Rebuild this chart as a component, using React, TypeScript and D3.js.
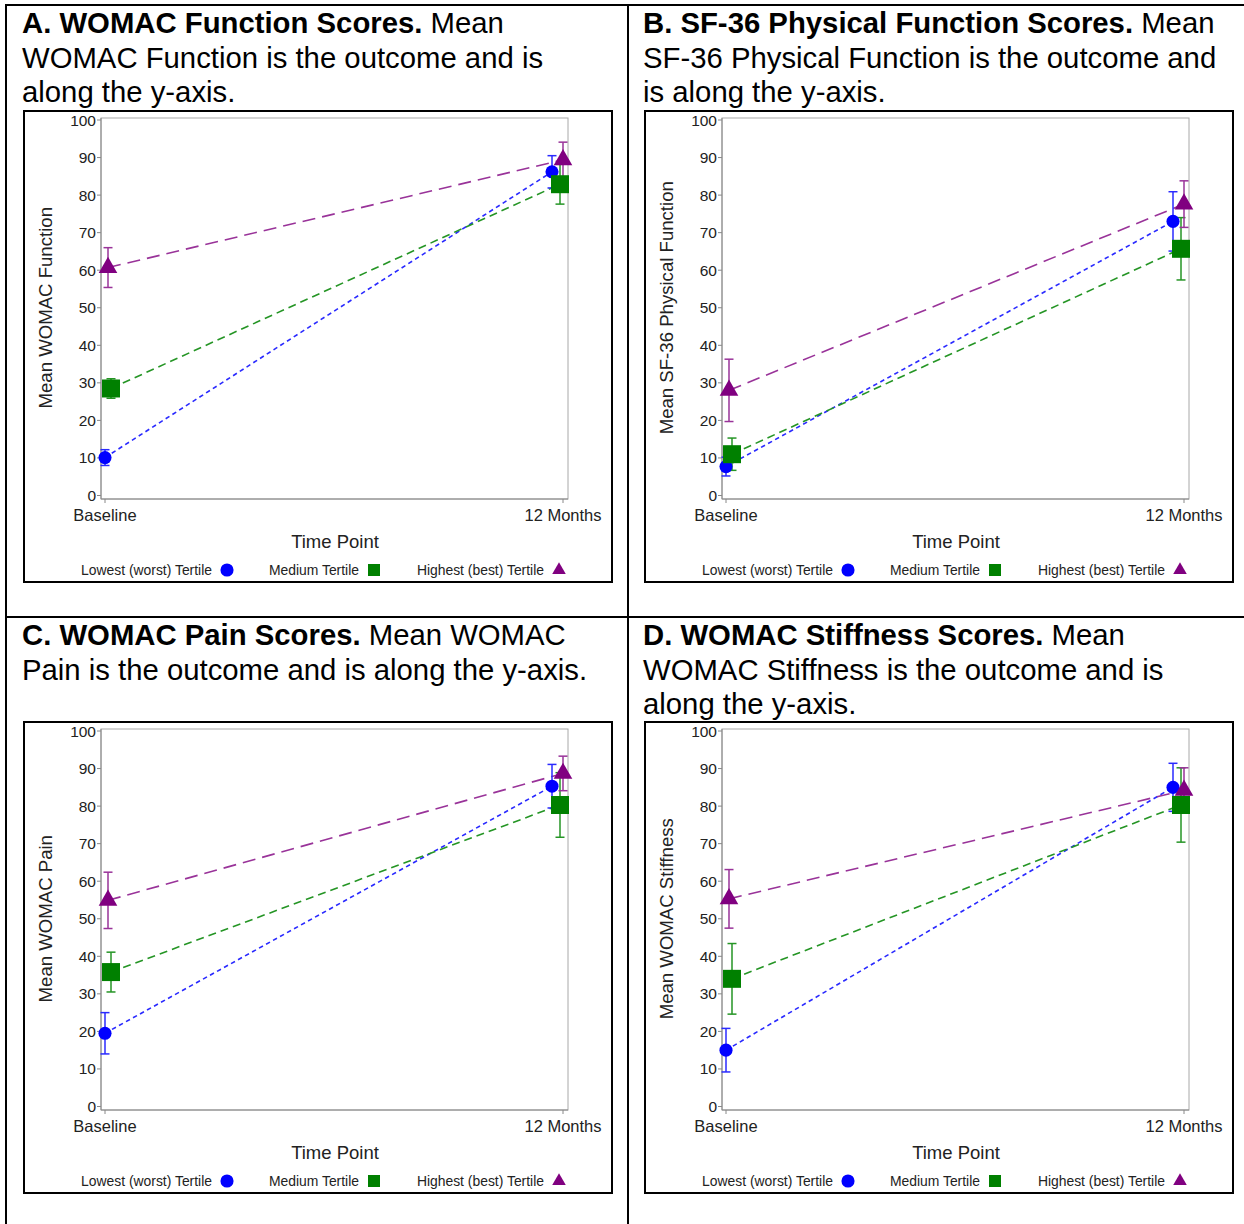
import * as d3 from "d3";

const timePoints = ["Baseline", "12 Months"];
const tertiles = ["Lowest (worst) Tertile", "Medium Tertile", "Highest (best) Tertile"];
const yTicks = [0, 10, 20, 30, 40, 50, 60, 70, 80, 90, 100];

// mean and half-width of error bar, per tertile, per time point
const functionMean = [[10.1, 86.2], [28.5, 82.9], [60.7, 89.4]];
const functionErr = [[2.1, 4.3], [2.6, 5.3], [5.3, 4.7]];
const sf36Mean = [[7.7, 73.0], [11.0, 65.7], [28.0, 77.6]];
const sf36Err = [[2.5, 7.9], [4.3, 8.3], [8.3, 6.2]];
const painMean = [[19.5, 85.3], [35.8, 80.3], [54.9, 88.7]];
const painErr = [[5.5, 5.8], [5.3, 8.6], [7.5, 4.6]];
const stiffMean = [[15.0, 85.0], [34.0, 80.3], [55.3, 84.2]];
const stiffErr = [[5.8, 6.4], [9.4, 9.9], [7.8, 6.0]];

const panelBold = [
  "A. WOMAC Function Scores.",
  "B. SF-36 Physical Function Scores.",
  "C. WOMAC Pain Scores.",
  "D. WOMAC Stiffness Scores.",
];
const panelText = [
  [" Mean", "WOMAC Function is the outcome and is", "along the y-axis."],
  [" Mean", "SF-36 Physical Function is the outcome and", "is along the y-axis."],
  [" Mean WOMAC", "Pain is the outcome and is along the y-axis."],
  [" Mean", "WOMAC Stiffness is the outcome and is", "along the y-axis."],
];
const yLabels = [
  "Mean WOMAC Function",
  "Mean SF-36 Physical Function",
  "Mean WOMAC Pain",
  "Mean WOMAC Stiffness",
];

const font = "'Liberation Sans', Arial, sans-serif";
const markColors = ["#0000ff", "#008000", "#800080"];
const lineColors = ["#2a2aff", "#259525", "#993399"];
const dashes = ["4.5 3.5", "8 5", "13 7"];
const symbols = [d3.symbolCircle, d3.symbolSquare, d3.symbolTriangle];
const markSizes = [135, 324, 150];
const legendSizes = [135, 144, 80];
// SAS cluster offsets, in pixels, per tertile and time point
const dodge = [[0, -11], [6, -3], [3, 0]];

const frameW = 588;
const frameH = 471;

function Panel(props) {
  const { x0, y0, yLabel, means, errs } = props;
  const xScale = d3.scalePoint().domain(timePoints).range([81, 539]);
  const yScale = d3.scaleLinear().domain([0, 100]).range([384.5, 9]);
  const line = d3
    .line()
    .x((d) => d[0])
    .y((d) => d[1]);

  const pts = means.map((row, s) =>
    row.map((v, t) => [xScale(timePoints[t]) + dodge[s][t], yScale(v)])
  );

  return (
    <g transform={`translate(${x0}, ${y0})`}>
      <rect x={0} y={0} width={frameW} height={frameH} fill="white" stroke="black" strokeWidth={2} />
      <rect x={77} y={7} width={467} height={381} fill="none" stroke="#a8a8a8" strokeWidth={1} />
      <line x1={77} x2={77} y1={7} y2={388} stroke="#888" />
      <line x1={77} x2={544} y1={388} y2={388} stroke="#888" />
      {yTicks.map((t) => (
        <g key={t}>
          <line x1={73} x2={77} y1={yScale(t)} y2={yScale(t)} stroke="#888" />
          <text
            x={72}
            y={yScale(t)}
            textAnchor="end"
            dominantBaseline="central"
            fontSize={15.5}
            fill="#222"
          >
            {t}
          </text>
        </g>
      ))}
      {timePoints.map((t) => (
        <g key={t}>
          <line x1={xScale(t)} x2={xScale(t)} y1={388} y2={392} stroke="#888" />
          <text x={xScale(t)} y={410} textAnchor="middle" fontSize={16.5} fill="#222">
            {t}
          </text>
        </g>
      ))}
      <text x={311} y={437} textAnchor="middle" fontSize={18.5} fill="#222">
        Time Point
      </text>
      <text
        transform={`translate(21, ${(yScale(0) + yScale(100)) / 2}) rotate(-90)`}
        textAnchor="middle"
        dominantBaseline="central"
        fontSize={18.6}
        fill="#222"
      >
        {yLabel}
      </text>

      {pts.map((p, s) => (
        <path
          key={s}
          d={line(p)}
          fill="none"
          stroke={lineColors[s]}
          strokeWidth={1.6}
          strokeDasharray={dashes[s]}
        />
      ))}
      {pts.map((p, s) =>
        p.map((pt, t) => {
          const top = yScale(means[s][t] + errs[s][t]);
          const bot = yScale(means[s][t] - errs[s][t]);
          return (
            <g key={`${s}-${t}`} stroke={lineColors[s]} strokeWidth={1.5}>
              <line x1={pt[0]} x2={pt[0]} y1={top} y2={bot} />
              <line x1={pt[0] - 4.5} x2={pt[0] + 4.5} y1={top} y2={top} />
              <line x1={pt[0] - 4.5} x2={pt[0] + 4.5} y1={bot} y2={bot} />
            </g>
          );
        })
      )}
      {pts.map((p, s) =>
        p.map((pt, t) => (
          <path
            key={`m${s}-${t}`}
            transform={`translate(${pt[0]}, ${pt[1]})`}
            d={d3.symbol().type(symbols[s]).size(markSizes[s])()}
            fill={markColors[s]}
          />
        ))
      )}

      {tertiles.map((name, s) => {
        const mx = [203, 350, 535][s];
        return (
          <g key={name}>
            <text x={mx - 15} y={464} textAnchor="end" fontSize={13.9} fill="#222">
              {name}
            </text>
            <path
              transform={`translate(${mx}, 459)`}
              d={d3.symbol().type(symbols[s]).size(legendSizes[s])()}
              fill={markColors[s]}
            />
          </g>
        );
      })}
    </g>
  );
}

function Title(props) {
  const { x, y, bold, lines } = props;
  return (
    <text x={x} y={y} fontSize={29.3} fill="black">
      <tspan fontWeight="bold">{bold}</tspan>
      <tspan>{lines[0]}</tspan>
      {lines.slice(1).map((l, i) => (
        <tspan key={i} x={x} y={y + 34.5 * (i + 1)}>
          {l}
        </tspan>
      ))}
    </text>
  );
}

export default function App() {
  const origins = [
    [24, 111],
    [645, 111],
    [24, 722],
    [645, 722],
  ];
  const titlePos = [
    [22, 33],
    [643, 33],
    [22, 645],
    [643, 645],
  ];
  const means = [functionMean, sf36Mean, painMean, stiffMean];
  const errs = [functionErr, sf36Err, painErr, stiffErr];

  return (
    <svg
      width={1244}
      height={1224}
      style={{ position: "absolute", left: 0, top: 0, fontFamily: font, background: "white" }}
    >
      <rect x={0} y={0} width={1244} height={1224} fill="white" />
      <line x1={5} x2={1244} y1={5} y2={5} stroke="black" strokeWidth={2} />
      <line x1={6} x2={6} y1={4} y2={1224} stroke="black" strokeWidth={2} />
      <line x1={628} x2={628} y1={4} y2={1224} stroke="black" strokeWidth={2} />
      <line x1={5} x2={1244} y1={617} y2={617} stroke="black" strokeWidth={2} />
      {panelBold.map((b, i) => (
        <Title key={b} x={titlePos[i][0]} y={titlePos[i][1]} bold={b} lines={panelText[i]} />
      ))}
      {origins.map((o, i) => (
        <Panel key={i} x0={o[0]} y0={o[1]} yLabel={yLabels[i]} means={means[i]} errs={errs[i]} />
      ))}
    </svg>
  );
}
